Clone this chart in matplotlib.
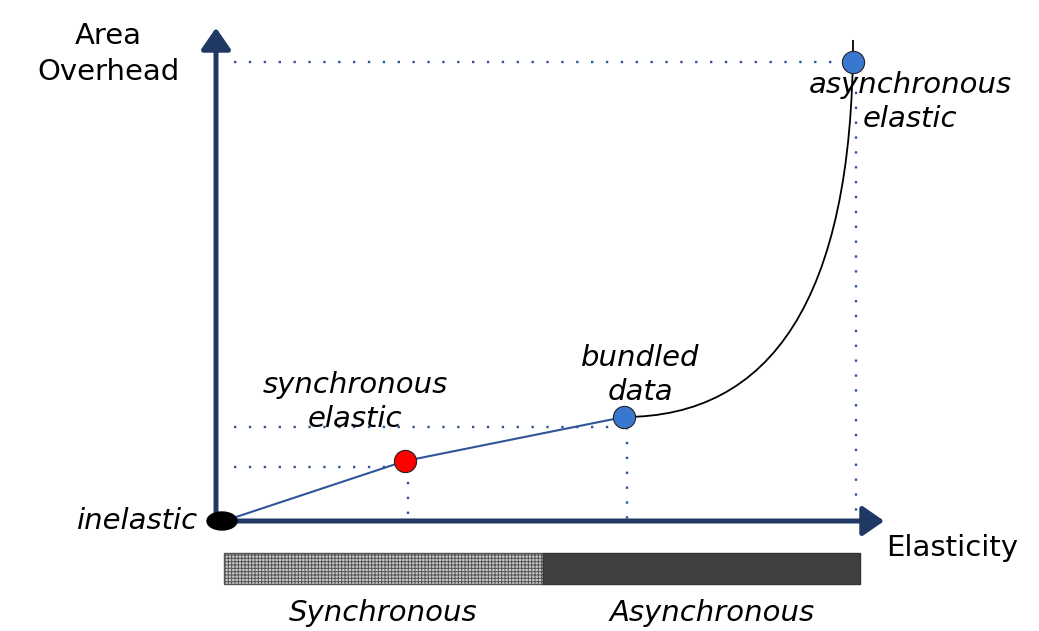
import matplotlib
matplotlib.use("Agg")
import matplotlib.pyplot as plt
from matplotlib.patches import Ellipse, FancyArrowPatch, PathPatch
from matplotlib.path import Path

plt.rcParams['font.family'] = ['DejaVu Sans']
plt.rcParams['hatch.color'] = '#808080'
plt.rcParams['hatch.linewidth'] = 0.7

# design points (elasticity, area overhead), origin at the axis corner
pt_names = ['inelastic', 'synchronous\nelastic', 'bundled\ndata', 'asynchronous\nelastic']
pt_x = [0, 181, 400, 629]
pt_y = [0, 60, 104, 459]
pt_colors = ['black', '#ff0000', '#3a78d0', '#3a78d0']

# bezier control points of the curve from bundled data to asynchronous elastic
curve_x = [400, 546, 629, 629]
curve_y = [104, 104, 221, 481]

# bar underneath the x axis
band_labels = ['Synchronous', 'Asynchronous']
band_left = [0, 319]
band_width = [319, 317]

navy = '#1f3864'
dotblue = '#2f5597'

fig = plt.figure(figsize=(10.39, 6.31), dpi=100)
ax = fig.add_axes([0, 0, 1, 1])
ax.set_xlim(-224, 815)
ax.set_ylim(-110, 521)
ax.axis('off')

# dotted guide lines
dots = dict(color=dotblue, lw=1.7, linestyle=(0, (1, 5.3)), zorder=1)
guide_y = [54, 94, 459]
for i, gy in enumerate(guide_y):
    ax.plot([10, pt_x[i + 1]], [gy, gy], **dots)
    ax.plot([pt_x[i + 1] + 3, pt_x[i + 1] + 3], [gy, 0], **dots)

# axes with arrows
for start, end in [((-8, -2), (-8, 496)), ((-10, 0), (663, 0))]:
    ax.add_patch(FancyArrowPatch(start, end, arrowstyle='-|>,head_length=0.65,head_width=0.45',
                                 mutation_scale=20, lw=3.6, color=navy, zorder=3))

# straight segments
ax.plot(pt_x[:3], pt_y[:3], color='#2f5597', lw=1.5, zorder=4)
# curve
verts = list(zip(curve_x, curve_y))
ax.add_patch(PathPatch(Path(verts, [Path.MOVETO, Path.CURVE4, Path.CURVE4, Path.CURVE4]),
                       facecolor='none', edgecolor='black', lw=1.3, zorder=4))

# points
ax.add_patch(Ellipse((pt_x[0] - 2, pt_y[0]), 30, 18, color='black', zorder=5))
for x, y, c in zip(pt_x[1:], pt_y[1:], pt_colors[1:]):
    ax.plot(x, y, 'o', ms=16, color=c, mec='#222222', mew=0.8, zorder=6)

# labels
lab = dict(fontsize=21, style='italic', ha='center', va='center', linespacing=1.3, zorder=7)
ax.text(-26, 0, pt_names[0], **dict(lab, ha='right'))
ax.text(131, 119, pt_names[1], **lab)
ax.text(416, 146, pt_names[2], **lab)
ax.text(686, 419, pt_names[3], **lab)

ax.text(-116, 467, 'Area\nOverhead', fontsize=21, ha='center', va='center', linespacing=1.35)
ax.text(728, -27, 'Elasticity', fontsize=21, ha='center', va='center')

# sync / async band
ax.barh(-47, band_width[0], left=band_left[0], height=31, color='#cacaca',
        edgecolor='#555555', hatch='+++++', lw=1)
ax.barh(-47, band_width[1], left=band_left[1], height=31, color='#404040',
        edgecolor='#333333', lw=1)
band_cx = [159, 488]
for cx, t in zip(band_cx, band_labels):
    ax.text(cx, -92, t, fontsize=21, style='italic', ha='center', va='center')

fig.savefig('out.png', dpi=100)
